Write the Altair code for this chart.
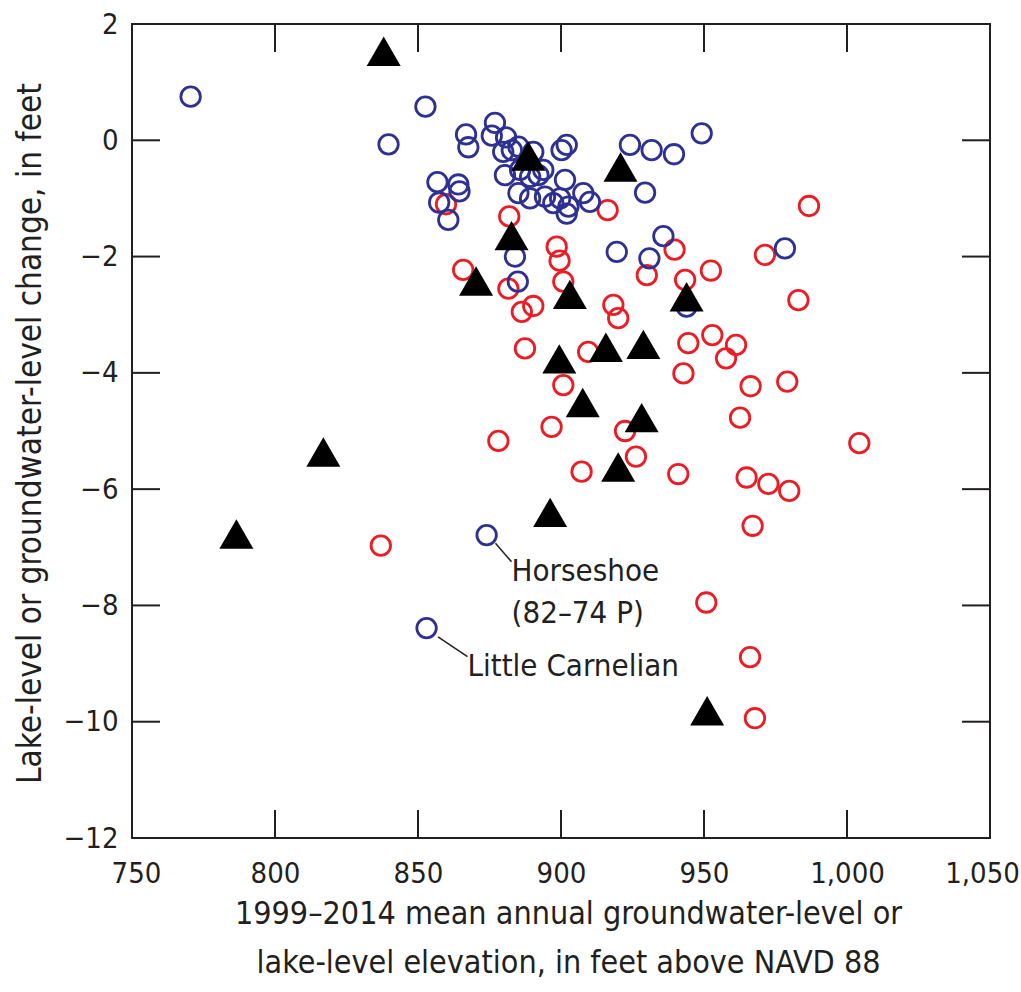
import altair as alt
import pandas as pd

# ---- data ----
blue_x = [770.5, 852.6, 839.7, 856.8, 857.4, 860.6, 864.1, 864.5, 866.8, 867.6,
          876.9, 875.8, 880.8, 879.8, 882.8, 885.1, 890.3, 902.0, 900.2, 880.4,
          885.7, 889.2, 892.1, 893.8, 901.4, 885.1, 889.2, 894.4, 897.3, 899.7,
          902.6, 902.0, 907.8, 910.1, 883.9, 884.9, 919.5, 930.9, 943.9, 924.1,
          931.7, 939.5, 949.2, 929.4, 935.8, 978.3, 874.0, 853.0]
blue_y = [0.75, 0.58, -0.07, -0.72, -1.07, -1.37, -0.76, -0.88, 0.10, -0.12,
          0.30, 0.08, 0.05, -0.20, -0.17, -0.11, -0.20, -0.08, -0.17, -0.60,
          -0.51, -0.63, -0.60, -0.51, -0.68, -0.91, -1.00, -0.97, -1.08, -1.00,
          -1.14, -1.26, -0.91, -1.06, -2.00, -2.43, -1.92, -2.03, -2.86, -0.08,
          -0.17, -0.24, 0.12, -0.90, -1.65, -1.86, -6.79, -8.39]

red_x = [859.8, 865.8, 881.9, 916.3, 898.5, 899.5, 900.8, 881.6, 886.3, 890.3,
         918.3, 920.0, 930.0, 939.7, 943.4, 952.4, 971.3, 986.7, 983.0, 887.4,
         909.5, 944.5, 952.9, 961.2, 957.7, 942.8, 966.3, 979.1, 900.8, 962.6,
         896.7, 922.4, 878.1, 926.2, 907.2, 941.0, 1004.3, 964.9, 972.5, 979.8,
         967.0, 837.0, 950.8, 966.1, 967.8]
red_y = [-1.10, -2.23, -1.31, -1.20, -1.83, -2.07, -2.43, -2.55, -2.95, -2.85,
         -2.83, -3.06, -2.32, -1.88, -2.40, -2.24, -1.97, -1.13, -2.75, -3.58,
         -3.64, -3.49, -3.35, -3.52, -3.75, -4.01, -4.23, -4.15, -4.21, -4.77,
         -4.93, -5.00, -5.17, -5.44, -5.70, -5.74, -5.21, -5.80, -5.91, -6.03,
         -6.63, -6.97, -7.95, -8.89, -9.94]

tri_x = [838.0, 888.6, 920.8, 882.7, 870.3, 903.1, 943.9, 899.4, 915.7, 928.8,
         907.6, 928.2, 920.0, 896.2, 816.9, 786.5, 951.1]
tri_y = [1.53, -0.27, -0.46, -1.64, -2.42, -2.65, -2.69, -3.76, -3.56, -3.51,
         -4.51, -4.77, -5.62, -6.40, -5.36, -6.77, -9.81]

x_ticks = [750, 800, 850, 900, 950, 1000, 1050]
y_ticks = [2, 0, -2, -4, -6, -8, -10, -12]
x_inner = [800, 850, 900, 950, 1000]
y_inner = [0, -2, -4, -6, -8, -10]

label_text = ["Horseshoe", "(82\u201374 P)", "Little Carnelian"]
label_x = [882.7, 882.7, 867.3]
label_y = [-7.43, -8.14, -9.06]

leader_x = [877.1, 857.0]
leader_y = [-6.93, -8.54]
leader_x2 = [882.7, 867.3]
leader_y2 = [-7.25, -8.88]

x_title = ["1999\u20132014 mean annual groundwater-level or",
           "lake-level elevation, in feet above NAVD 88"]
y_title = "Lake-level or groundwater-level change, in feet"

FONT = "DejaVu Sans Condensed, Liberation Sans Narrow, Roboto, sans-serif"
BLUE = "#2e3192"
RED = "#ed1c24"
INK = "#231f20"

W, H = 858, 814
TICK = 28

blue_df = pd.DataFrame({"elev": blue_x, "change": blue_y})
red_df = pd.DataFrame({"elev": red_x, "change": red_y})
tri_df = pd.DataFrame({"elev": tri_x, "change": tri_y})

xscale = alt.Scale(domain=[750, 1050], nice=False, zero=False)
yscale = alt.Scale(domain=[-12, 2], nice=False, zero=False)

xaxis = alt.Axis(values=x_ticks, format=",d", ticks=False, domain=False, grid=False,
                 labelFontSize=29, labelPadding=21, labelColor=INK, labelFont=FONT,
                 labelOffset={"expr": "datum.value == 1050 ? -8 : (datum.value == 750 ? 4 : 0)"},
                 title=x_title, titleFont=FONT, titleFontSize=32, titleFontWeight="normal",
                 titleColor=INK, titleLineHeight=49, titleX=436, titleY=85,
                 titleBaseline="alphabetic", titleAnchor="middle", titleAlign="center",
                 labelFlush=False, labelOverlap=False)
yaxis = alt.Axis(values=y_ticks, ticks=False, domain=False, grid=False,
                 labelFontSize=29, labelPadding=14, labelColor=INK, labelFont=FONT,
                 title=y_title, titleFont=FONT, titleFontSize=33, titleFontWeight="normal",
                 titleColor=INK, titleAngle=-90, titleX=-102, titleY=H / 2 + 2,
                 titleAlign="center", titleBaseline="middle",
                 labelFlush=False, labelOverlap=False)

X = lambda f: alt.X(f, scale=xscale, axis=xaxis)
Y = lambda f: alt.Y(f, scale=yscale, axis=yaxis)

red = alt.Chart(red_df).mark_point(shape="circle", filled=False, size=380,
                                   strokeWidth=2.8, color=RED, opacity=1).encode(
    x=X("elev:Q"), y=Y("change:Q"))
blue = alt.Chart(blue_df).mark_point(shape="circle", filled=False, size=380,
                                     strokeWidth=2.8, color=BLUE, opacity=1).encode(
    x=X("elev:Q"), y=Y("change:Q"))
tri = alt.Chart(tri_df).mark_point(shape="triangle-up", filled=True, size=1156,
                                   color="black", opacity=1).encode(
    x=X("elev:Q"), y=Y("change:Q"))

xt_df = pd.DataFrame({"elev": x_inner})
yt_df = pd.DataFrame({"change": y_inner})
tick_style = dict(color=INK, strokeWidth=2)
bottom_ticks = alt.Chart(xt_df).mark_rule(**tick_style).encode(
    x=X("elev:Q"), y=alt.value(H), y2=alt.value(H - TICK))
top_ticks = alt.Chart(xt_df).mark_rule(**tick_style).encode(
    x=X("elev:Q"), y=alt.value(0), y2=alt.value(TICK))
left_ticks = alt.Chart(yt_df).mark_rule(**tick_style).encode(
    y=Y("change:Q"), x=alt.value(0), x2=alt.value(TICK))
right_ticks = alt.Chart(yt_df).mark_rule(**tick_style).encode(
    y=Y("change:Q"), x=alt.value(W), x2=alt.value(W - TICK))

lead_df = pd.DataFrame({"elev": leader_x, "change": leader_y,
                        "elev2": leader_x2, "change2": leader_y2})
leaders = alt.Chart(lead_df).mark_rule(color=INK, strokeWidth=1.5).encode(
    x=X("elev:Q"), y=Y("change:Q"), x2="elev2:Q", y2="change2:Q")

lab_df = pd.DataFrame({"t": label_text, "elev": label_x, "change": label_y})
labels = alt.Chart(lab_df).mark_text(align="left", baseline="middle", font=FONT,
                                     fontSize=31, color=INK).encode(
    x=X("elev:Q"), y=Y("change:Q"), text="t:N")

chart = alt.layer(red, blue, tri, bottom_ticks, top_ticks, left_ticks, right_ticks,
                  leaders, labels).properties(
    width=W, height=H,
    autosize=alt.AutoSizeParams(type="none"),
    padding={"left": 132, "top": 24, "right": 31, "bottom": 154},
    background="white",
).configure_view(stroke=INK, strokeWidth=2)

chart.save("out.html", embed_options={"renderer": "svg", "actions": False})
